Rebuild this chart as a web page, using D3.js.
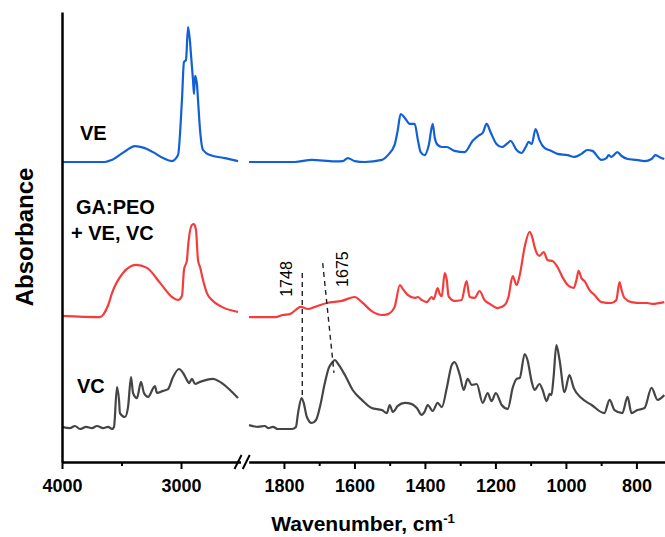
<!DOCTYPE html>
<html>
<head>
<meta charset="utf-8">
<script src="https://cdn.jsdelivr.net/npm/d3@7"></script>
<style>
  body { margin: 0; background: #fff; }
  svg text { font-family: Arial, "Liberation Sans", sans-serif; }
  .tick text { font-size: 18px; font-weight: bold; fill: #000; }
</style>
</head>
<body>
<div id="chart"></div>
<script>
// spectra: [wavenumber cm-1, absorbance a.u. (stacked)]
const veLeft = [[4000,1.000],[3639,1.000],[3580,1.007],[3480,1.033],[3387,1.053],[3310,1.047],[3235,1.033],[3150,1.013],[3076,1.003],[3025,1.023],[2992,1.207],[2975,1.333],[2958,1.340],[2941,1.450],[2924,1.400],[2916,1.357],[2899,1.273],[2891,1.227],[2882,1.287],[2866,1.260],[2857,1.207],[2840,1.107],[2815,1.040],[2756,1.023],[2630,1.013],[2521,1.003]];
const veRight = [[1899,1.000],[1769,1.000],[1721,1.007],[1656,1.002],[1633,1.003],[1619,1.013],[1599,1.003],[1571,1.000],[1522,1.007],[1505,1.023],[1486,1.057],[1477,1.107],[1469,1.160],[1457,1.147],[1443,1.127],[1429,1.127],[1420,1.073],[1412,1.033],[1401,1.023],[1389,1.057],[1378,1.127],[1372,1.080],[1364,1.057],[1352,1.050],[1338,1.050],[1321,1.040],[1316,1.037],[1287,1.033],[1265,1.070],[1245,1.090],[1236,1.097],[1225,1.127],[1214,1.100],[1197,1.060],[1182,1.050],[1165,1.063],[1157,1.070],[1140,1.040],[1126,1.030],[1114,1.050],[1106,1.067],[1097,1.060],[1086,1.110],[1075,1.073],[1061,1.047],[1041,1.037],[1024,1.027],[995,1.023],[976,1.017],[956,1.027],[939,1.040],[925,1.037],[899,1.007],[885,1.013],[879,1.023],[871,1.017],[854,1.033],[842,1.020],[825,1.010],[800,1.007],[777,1.003],[757,1.010],[746,1.023],[735,1.017],[721,1.010]];

const mixLeft = [[4000,0.487],[3681,0.483],[3650,0.493],[3610,0.525],[3580,0.563],[3487,0.630],[3378,0.657],[3286,0.647],[3176,0.597],[3076,0.550],[3025,0.540],[2992,0.553],[2975,0.640],[2950,0.673],[2941,0.717],[2908,0.790],[2891,0.793],[2874,0.773],[2857,0.673],[2840,0.650],[2815,0.607],[2782,0.563],[2740,0.540],[2656,0.517],[2521,0.500]];
const mixRight = [[1899,0.483],[1825,0.483],[1803,0.490],[1783,0.493],[1752,0.517],[1732,0.510],[1712,0.517],[1678,0.530],[1636,0.537],[1599,0.550],[1579,0.533],[1551,0.503],[1522,0.490],[1505,0.493],[1486,0.517],[1471,0.590],[1463,0.577],[1449,0.557],[1429,0.547],[1420,0.550],[1409,0.540],[1395,0.533],[1381,0.550],[1375,0.543],[1364,0.580],[1358,0.560],[1352,0.553],[1344,0.630],[1338,0.607],[1333,0.553],[1316,0.537],[1296,0.540],[1282,0.603],[1273,0.550],[1259,0.547],[1245,0.570],[1231,0.540],[1216,0.527],[1194,0.513],[1174,0.523],[1163,0.550],[1151,0.620],[1140,0.590],[1131,0.623],[1117,0.717],[1103,0.767],[1095,0.747],[1089,0.717],[1075,0.687],[1063,0.700],[1052,0.673],[1038,0.670],[1024,0.650],[1010,0.617],[995,0.590],[978,0.580],[970,0.607],[964,0.637],[956,0.613],[947,0.603],[933,0.573],[919,0.557],[899,0.533],[871,0.530],[857,0.540],[848,0.600],[842,0.573],[834,0.547],[814,0.533],[786,0.530],[769,0.530],[755,0.527],[721,0.533]];

const vcLeft = [[4000,0.117],[3933,0.113],[3891,0.120],[3849,0.110],[3798,0.117],[3748,0.113],[3706,0.120],[3655,0.113],[3613,0.117],[3580,0.110],[3563,0.117],[3538,0.250],[3521,0.207],[3513,0.163],[3471,0.150],[3445,0.183],[3420,0.283],[3403,0.230],[3370,0.213],[3336,0.267],[3311,0.230],[3277,0.217],[3219,0.253],[3202,0.230],[3151,0.237],[3109,0.243],[3067,0.283],[3017,0.310],[2983,0.297],[2950,0.273],[2933,0.263],[2908,0.277],[2882,0.260],[2840,0.267],[2731,0.277],[2672,0.267],[2588,0.240],[2521,0.213]];
const vcRight = [[1899,0.123],[1874,0.117],[1854,0.120],[1845,0.113],[1831,0.117],[1817,0.110],[1777,0.110],[1766,0.117],[1760,0.163],[1750,0.213],[1744,0.197],[1735,0.150],[1721,0.130],[1709,0.140],[1698,0.183],[1684,0.263],[1673,0.313],[1664,0.330],[1656,0.340],[1644,0.323],[1627,0.290],[1605,0.240],[1579,0.207],[1551,0.180],[1522,0.173],[1508,0.163],[1500,0.190],[1491,0.167],[1477,0.187],[1457,0.197],[1437,0.193],[1423,0.180],[1409,0.157],[1401,0.167],[1392,0.190],[1378,0.170],[1364,0.197],[1352,0.183],[1338,0.247],[1324,0.323],[1316,0.333],[1301,0.290],[1290,0.240],[1279,0.277],[1267,0.257],[1253,0.260],[1236,0.197],[1222,0.230],[1211,0.203],[1199,0.230],[1182,0.190],[1165,0.177],[1151,0.247],[1140,0.277],[1131,0.280],[1117,0.360],[1109,0.340],[1097,0.267],[1089,0.240],[1075,0.260],[1066,0.240],[1055,0.203],[1046,0.227],[1041,0.223],[1035,0.283],[1027,0.390],[1018,0.340],[1004,0.233],[990,0.290],[978,0.247],[956,0.213],[927,0.190],[891,0.163],[876,0.207],[862,0.173],[840,0.163],[825,0.217],[814,0.163],[797,0.173],[777,0.180],[757,0.247],[740,0.207],[721,0.223]];

const leftTicks = [4000, 3000];
const leftMinor = [3500];
const rightTicks = [1800, 1600, 1400, 1200, 1000, 800];
const rightMinor = [1700, 1500, 1300, 1100, 900];

// marked bands: label, wavenumber at top / bottom of the dashed guide, absorbance top / bottom
const bands = [
  {label: "1748", wnTop: 1748, wnBot: 1748, top: 0.630, bot: 0.217},
  {label: "1675", wnTop: 1690, wnBot: 1658, top: 0.663, bot: 0.297}
];

const W = 665, H = 537;
const svg = d3.select("#chart").append("svg").attr("width", W).attr("height", H);

const xL = d3.scaleLinear().domain([4000, 2500]).range([62, 240.5]);
const xR = d3.scaleLinear().domain([1900, 720]).range([248.7, 664.6]);
const y = d3.scaleLinear().domain([0, 1.5]).range([462, 12]);

function lineFor(x) {
  return d3.line().x(d => x(d[0])).y(d => y(d[1])).curve(d3.curveMonotoneX);
}

const series = [
  {left: veLeft, right: veRight, color: "#1160d6"},
  {left: mixLeft, right: mixRight, color: "#f53c3c"},
  {left: vcLeft, right: vcRight, color: "#454545"}
];

series.forEach(function(s){
  svg.append("path").attr("d", lineFor(xL)(s.left))
    .attr("fill", "none").attr("stroke", s.color).attr("stroke-width", 2.2);
  svg.append("path").attr("d", lineFor(xR)(s.right))
    .attr("fill", "none").attr("stroke", s.color).attr("stroke-width", 2.2);
});

// dashed guides
bands.forEach(function(b, i){
  svg.append("line")
    .attr("x1", xR(b.wnTop)).attr("y1", y(b.top))
    .attr("x2", xR(b.wnBot)).attr("y2", y(b.bot))
    .attr("stroke", "#222").attr("stroke-width", 1.4).attr("stroke-dasharray", "5,4");
  let tx = i == 0 ? xR(b.wnTop) - 10 : xR(b.wnTop) + 25;
  svg.append("text")
    .attr("transform", "translate(" + tx + "," + (y(b.top) + 6) + ") rotate(-90)")
    .attr("text-anchor", "middle")
    .style("font-size", "16px").text(b.label);
});

// axes
const axisG = svg.append("g");
axisG.append("g").attr("transform", "translate(62,0)")
  .call(d3.axisLeft(y).tickValues([]).tickSizeOuter(0));

axisG.append("g").attr("transform", "translate(0,462)")
  .call(d3.axisBottom(xL).tickValues(leftTicks).tickSize(7).tickSizeOuter(0).tickPadding(10).tickFormat(d3.format("d")));
axisG.append("g").attr("transform", "translate(0,462)")
  .call(d3.axisBottom(xL).tickValues(leftMinor).tickSize(4).tickFormat(""))
  .select(".domain").remove();
axisG.append("g").attr("transform", "translate(0,462)")
  .call(d3.axisBottom(xR).tickValues(rightTicks).tickSize(7).tickSizeOuter(0).tickPadding(10).tickFormat(d3.format("d")));
axisG.append("g").attr("transform", "translate(0,462)")
  .call(d3.axisBottom(xR).tickValues(rightMinor).tickSize(4).tickFormat(""))
  .select(".domain").remove();

axisG.selectAll(".domain").attr("stroke", "#000").attr("stroke-width", 2.5);
axisG.selectAll(".tick line").attr("stroke", "#000").attr("stroke-width", 2);

// break marks
[xL(2500) - 3, xR(1900) - 3].forEach(function(bx){
  svg.append("line").attr("x1", bx - 3).attr("y1", 469).attr("x2", bx + 4).attr("y2", 455)
    .attr("stroke", "#000").attr("stroke-width", 2);
});

// titles
svg.append("text").attr("x", 363).attr("y", 531).attr("text-anchor", "middle")
  .style("font-size", "21px").style("font-weight", "bold")
  .text("Wavenumber, cm").append("tspan").attr("dy", -8).style("font-size", "13px").text("-1");

svg.append("text").attr("transform", "translate(33,237) rotate(-90)").attr("text-anchor", "middle")
  .style("font-size", "24px").style("font-weight", "bold").text("Absorbance");

// series labels
const lab = svg.append("g").style("font-size", "20px").style("font-weight", "bold");
lab.append("text").attr("x", 80).attr("y", 140).text("VE");
lab.append("text").attr("x", 76).attr("y", 214).text("GA:PEO");
lab.append("text").attr("x", 71).attr("y", 240).text("+ VE, VC");
lab.append("text").attr("x", 77).attr("y", 393).text("VC");
</script>
</body>
</html>
